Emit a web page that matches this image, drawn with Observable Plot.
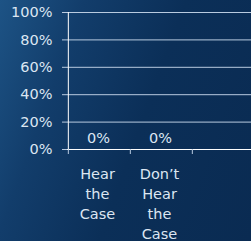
<!DOCTYPE html>
<html><head><meta charset="utf-8">
<script src="https://cdn.jsdelivr.net/npm/d3@7"></script>
<script src="https://cdn.jsdelivr.net/npm/@observablehq/plot@0.6"></script>
<style>
html,body{margin:0;padding:0;width:251px;height:241px;overflow:hidden;
background:linear-gradient(110deg,#1d5385 0%,#123d6b 25%,#0b2f58 55%,#0a2b52 100%);}
#c svg{display:block;}
</style></head><body><div id="c"></div>
<script>
const categories = ["Hear\nthe\nCase", "Don\u2019t\nHear\nthe\nCase", ""];
const values = [0, 0, null];
const valueLabels = ["0%", "0%", ""];
const yTicks = [0, 0.2, 0.4, 0.6, 0.8, 1.0];

const data = categories.map((c, i) => ({cat: c, v: values[i], label: valueLabels[i]}));
const W = 251, H = 241, ML = 67;
const xRange = [67, 254];
const bw = (xRange[1] - xRange[0]) / categories.length;
const textColor = "#dce6f2";
const lineColor = "#b9cbe0";

const chart = Plot.plot({
  width: W, height: H,
  marginLeft: ML, marginRight: 0, marginTop: 12, marginBottom: 92,
  style: {background: "transparent", color: textColor, fontFamily: "DejaVu Sans, Verdana, sans-serif", fontSize: "14.5px"},
  x: {domain: categories, padding: 0, range: xRange, axis: null, label: null},
  y: {domain: [0, 1], axis: null, label: null},
  marks: [
    Plot.ruleY(yTicks.filter(d => d > 0), {stroke: lineColor, strokeWidth: 1}),
    Plot.ruleY([0], {stroke: "#ffffff", strokeWidth: 1}),
    Plot.ruleX([0], {x: () => categories[0], dx: -bw / 2, y1: 0, y2: 1, stroke: "#ffffff", strokeWidth: 1}),
    Plot.axisY({ticks: yTicks, tickFormat: d => Math.round(d * 100) + "%", tickSize: 5, tickPadding: 10, stroke: lineColor, fill: textColor, fontSize: 14.5, label: null}),
    Plot.axisX({text: null, tickSize: 5, dx: -bw / 2, stroke: lineColor, label: null}),
    Plot.axisX({tickSize: 0, tickPadding: 15, lineHeight: 1.38, dx: -2, fill: textColor, fontSize: 14.5, label: null}),
    Plot.barY(data.filter(d => d.v != null), {x: "cat", y: "v", fill: "#4f81bd"}),
    Plot.text(data, {x: "cat", y: 0, text: "label", dy: -11, dx: -1, fill: textColor, fontSize: 14.5})
  ]
});
document.getElementById("c").appendChild(chart);
</script></body></html>
